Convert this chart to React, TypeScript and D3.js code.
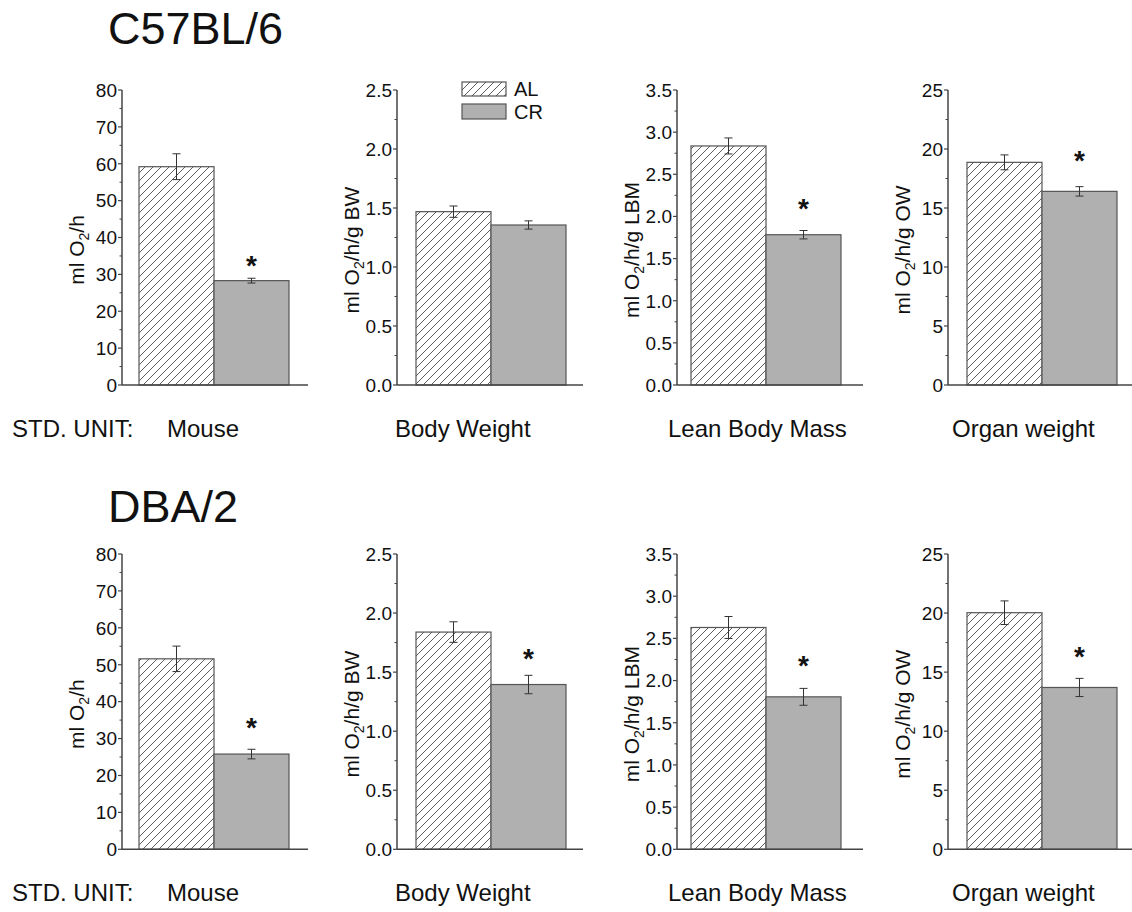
import React from "react";
import * as d3 from "d3";

// ---------- data ----------
const strains = ["C57BL/6", "DBA/2"];
const units = ["Mouse", "Body Weight", "Lean Body Mass", "Organ weight"];
const yLabelTails = ["/h", "/h/g BW", "/h/g LBM", "/h/g OW"];
const yMax = [80, 2.5, 3.5, 25];
const yStep = [10, 0.5, 0.5, 5];
const yFormat = ["d", ".1f", ".1f", "d"];
const groups = ["AL", "CR"];

const c57AL = [59.2, 1.469, 2.836, 18.87];
const c57ALerr = [3.5, 0.048, 0.095, 0.63];
const c57CR = [28.3, 1.356, 1.783, 16.41];
const c57CRerr = [0.65, 0.035, 0.05, 0.4];
const c57Star: (number | null)[] = [33.9, null, 2.159, 19.49];

const dbaAL = [51.6, 1.839, 2.629, 20.03];
const dbaALerr = [3.45, 0.087, 0.13, 1.0];
const dbaCR = [25.8, 1.395, 1.807, 13.7];
const dbaCRerr = [1.3, 0.078, 0.1, 0.77];
const dbaStar: (number | null)[] = [34.6, 1.664, 2.246, 16.75];

const rowsData = [
  { al: c57AL, alErr: c57ALerr, cr: c57CR, crErr: c57CRerr, star: c57Star },
  { al: dbaAL, alErr: dbaALerr, cr: dbaCR, crErr: dbaCRerr, star: dbaStar },
];

// ---------- layout ----------
const W = 1132;
const H = 912;
const FONT = "'Liberation Sans', Arial, Helvetica, sans-serif";
const panelX = [122, 397, 677, 948];
const barOffset = [17, 19, 14, 19];
const barW = 75;
const axisLen = 186;
const rowTop = [90, 554];
const rowZero = [385, 849.3];
const titleY = [44, 522];
const unitY = [437, 901];
const unitX = [167, 395, 668, 952];
const AXIS = "#444";
const CR_FILL = "#b0b0b0";

function Panel({ row, col }: { row: number; col: number }) {
  const d = rowsData[row];
  const x0 = panelX[col];
  const y = d3.scaleLinear().domain([0, yMax[col]]).range([rowZero[row], rowTop[row]]);
  const x = d3
    .scaleBand()
    .domain(groups)
    .range([x0 + barOffset[col], x0 + barOffset[col] + 2 * barW])
    .padding(0);
  const fmt = d3.format(yFormat[col]);
  const majors = d3.range(0, yMax[col] + yStep[col] / 2, yStep[col]);
  const minors = d3.range(yStep[col] / 2, yMax[col], yStep[col]);
  const vals = [d.al[col], d.cr[col]];
  const errs = [d.alErr[col], d.crErr[col]];
  const star = d.star[col];
  const labelCx = x0 - 46;
  const labelCy = (rowTop[row] + rowZero[row]) / 2 + 12.5;
  return (
    <g>
      {groups.map((g, i) => (
        <rect
          key={g}
          x={x(g)!}
          y={y(vals[i])}
          width={x.bandwidth()}
          height={y(0) - y(vals[i])}
          fill={i === 0 ? "url(#hatch)" : CR_FILL}
          stroke="#555"
          strokeWidth={1.2}
        />
      ))}
      {groups.map((g, i) => {
        const cx = x(g)! + x.bandwidth() / 2;
        const t = y(vals[i] + errs[i]);
        const b = y(vals[i] - errs[i]);
        return (
          <g key={"e" + g} stroke="#333" strokeWidth={1}>
            <line x1={cx} x2={cx} y1={t} y2={b} />
            <line x1={cx - 4} x2={cx + 4} y1={t} y2={t} />
            <line x1={cx - 4} x2={cx + 4} y1={b} y2={b} />
          </g>
        );
      })}
      {star !== null && (
        <text
          x={x("CR")! + x.bandwidth() / 2}
          y={y(star) + 15}
          textAnchor="middle"
          fontFamily={FONT}
          fontWeight="bold"
          fontSize={28}
          fill="#111"
        >
          *
        </text>
      )}
      {/* axes */}
      <line x1={x0} x2={x0} y1={rowTop[row]} y2={rowZero[row]} stroke={AXIS} strokeWidth={1.5} />
      <line x1={x0} x2={x0 + axisLen} y1={rowZero[row]} y2={rowZero[row]} stroke={AXIS} strokeWidth={1.5} />
      {majors.map((v) => (
        <g key={"M" + v}>
          <line x1={x0 - 4} x2={x0} y1={y(v)} y2={y(v)} stroke={AXIS} strokeWidth={1.2} />
          <text
            x={x0 - 5}
            y={y(v)}
            dy="0.36em"
            textAnchor="end"
            fontFamily={FONT}
            fontSize={19}
            fill="#111"
          >
            {fmt(v)}
          </text>
        </g>
      ))}
      {minors.map((v) => (
        <line key={"m" + v} x1={x0 - 2.5} x2={x0} y1={y(v)} y2={y(v)} stroke={AXIS} strokeWidth={1} />
      ))}
      <text
        transform={`translate(${labelCx},${labelCy}) rotate(-90)`}
        textAnchor="middle"
        dy="0.36em"
        fontFamily={FONT}
        fontSize={21}
        fill="#111"
      >
        ml O
        <tspan fontSize={14} dy="5">2</tspan>
        <tspan dy="-5">{yLabelTails[col]}</tspan>
      </text>
    </g>
  );
}

export default function App() {
  return (
    <div style={{ position: "absolute", left: 0, top: 0 }}>
      <svg width={W} height={H} viewBox={`0 0 ${W} ${H}`} style={{ display: "block", background: "#fff" }}>
        <defs>
          <pattern id="hatch" patternUnits="userSpaceOnUse" width={8} height={8}>
            <rect width={8} height={8} fill="#fff" />
            <path d="M-2,2 L2,-2 M0,8 L8,0 M6,10 L10,6" stroke="#333" strokeWidth={0.8} />
          </pattern>
        </defs>
        <rect width={W} height={H} fill="#fff" />
        {strains.map((s, r) => (
          <g key={s}>
            <text x={108} y={titleY[r]} fontFamily={FONT} fontSize={45} fill="#111">
              {s}
            </text>
            <text x={12} y={unitY[r]} fontFamily={FONT} fontSize={24} fill="#111">
              STD. UNIT:
            </text>
            {units.map((u, c) => (
              <text key={u} x={unitX[c]} y={unitY[r]} fontFamily={FONT} fontSize={24} fill="#111">
                {u}
              </text>
            ))}
            {units.map((u, c) => (
              <Panel key={"p" + u} row={r} col={c} />
            ))}
          </g>
        ))}
        {/* legend */}
        <g fontFamily={FONT} fontSize={20} fill="#111">
          <rect x={462} y={82} width={44} height={14} fill="url(#hatch)" stroke="#555" strokeWidth={1.2} />
          <text x={514} y={89} dy="0.36em">AL</text>
          <rect x={462} y={104} width={44} height={15} fill={CR_FILL} stroke="#555" strokeWidth={1.2} />
          <text x={514} y={111.5} dy="0.36em">CR</text>
        </g>
      </svg>
    </div>
  );
}
